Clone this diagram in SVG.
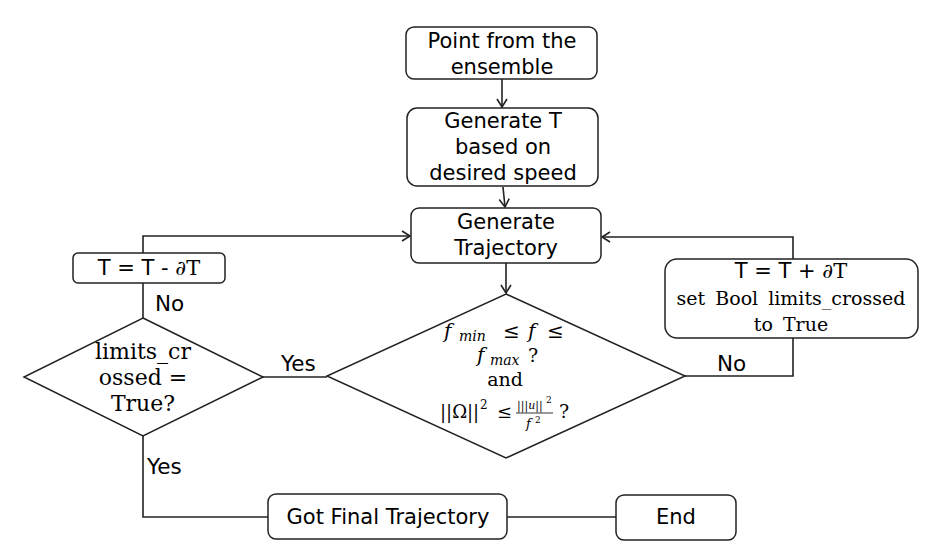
<svg xmlns="http://www.w3.org/2000/svg" width="930" height="552" viewBox="0 0 930 552">
<defs>
<marker id="arr" markerWidth="12" markerHeight="12" refX="10" refY="6" orient="auto" markerUnits="userSpaceOnUse">
<path d="M2,1 L10,6 L2,11" fill="none" stroke="#222" stroke-width="1.6"/>
</marker>
<style>
.box{fill:#fff;stroke:#222;stroke-width:1.5}
.ln{fill:none;stroke:#222;stroke-width:1.6}
.sans{font-family:"DejaVu Sans",sans-serif;font-size:21px;fill:#000;text-anchor:middle}
.serif{font-family:"DejaVu Serif",serif;font-size:19px;fill:#000;text-anchor:middle}
.big{font-size:22px}
.lbl{font-family:"DejaVu Sans",sans-serif;font-size:21.5px;fill:#000}
.m{font-family:"DejaVu Serif",serif;fill:#000}
.it{font-style:italic}
</style>
</defs>
<rect width="930" height="552" fill="#fff"/>
<g id="connectors">
<line class="ln" x1="502" y1="79" x2="502" y2="107" marker-end="url(#arr)"/>
<line class="ln" x1="503" y1="187" x2="505" y2="207" marker-end="url(#arr)"/>
<line class="ln" x1="506" y1="263" x2="506" y2="293" marker-end="url(#arr)"/>
<polyline class="ln" points="685,376 793,376 793,338"/>
<polyline class="ln" points="793,259 793,237 602,237" marker-end="url(#arr)"/>
<line class="ln" x1="327" y1="377" x2="263" y2="377"/>
<line class="ln" x1="143" y1="318" x2="143" y2="283"/>
<polyline class="ln" points="143,253 143,236 410,236" marker-end="url(#arr)"/>
<polyline class="ln" points="143,436 143,517 268,517"/>
<line class="ln" x1="507" y1="517" x2="616" y2="517"/>
<text class="lbl" x="281" y="371">Yes</text>
<text class="lbl" x="717" y="371">No</text>
<text class="lbl" x="155" y="311">No</text>
<text class="lbl" x="147" y="474">Yes</text>
</g>
<g id="n1">
<rect class="box" x="406" y="27" width="191" height="52" rx="8"/>
<text class="sans" x="502" y="48">Point from the</text>
<text class="sans" x="502" y="74">ensemble</text>
</g>
<g id="n2">
<rect class="box" x="407" y="108" width="191" height="78" rx="10"/>
<text class="sans" x="503" y="128">Generate T</text>
<text class="sans" x="503" y="154">based on</text>
<text class="sans" x="503" y="180">desired speed</text>
</g>
<g id="n3">
<rect class="box" x="411" y="208" width="190" height="55" rx="8"/>
<text class="sans" x="506" y="229">Generate</text>
<text class="sans" x="506" y="255">Trajectory</text>
</g>
<g id="n4">
<polygon class="box" points="506,294 685,376 506,458 327,376"/>
<text class="m it" x="444" y="338" style="font-size:20px">f</text>
<text class="m it" x="459" y="341" style="font-size:14px">min</text>
<text class="m" x="503" y="338" style="font-size:20px">≤</text>
<text class="m it" x="528" y="338" style="font-size:20px">f</text>
<text class="m" x="547" y="338" style="font-size:20px">≤</text>
<text class="m it" x="477" y="362" style="font-size:20px">f</text>
<text class="m it" x="490" y="365" style="font-size:14px">max</text>
<text class="m" x="528" y="362" style="font-size:19px">?</text>
<text class="m" x="505" y="386" style="font-size:19px" text-anchor="middle">and</text>
<text class="m" x="440" y="418" style="font-size:18px">||Ω||</text>
<text class="m" x="480" y="409" style="font-size:12px">2</text>
<text class="m" x="497" y="418" style="font-size:18px">≤</text>
<text class="m" x="517" y="409" style="font-size:11px">|||<tspan class="it">u</tspan>||</text>
<text class="m" x="546" y="403" style="font-size:9px">2</text>
<line x1="516" y1="413" x2="553" y2="413" stroke="#000" stroke-width="0.8"/>
<text class="m it" x="526" y="428" style="font-size:13px">f</text>
<text class="m" x="535" y="423" style="font-size:9px">2</text>
<text class="m" x="559" y="418" style="font-size:19px">?</text>
</g>
<g id="n5">
<rect class="box" x="665" y="259" width="253" height="79" rx="12"/>
<text class="sans" x="791" y="278"><tspan>T = T + </tspan><tspan font-family="DejaVu Serif, serif">∂T</tspan></text>
<text class="serif" x="791" y="305" word-spacing="4">set Bool limits_crossed</text>
<text class="serif" x="791" y="331" word-spacing="4">to True</text>
</g>
<g id="n6">
<rect class="box" x="73" y="253" width="152" height="30" rx="5"/>
<text class="sans" x="149" y="275"><tspan>T = T - </tspan><tspan font-family="DejaVu Serif, serif">∂T</tspan></text>
</g>
<g id="n7">
<polygon class="box" points="143,318 263,377 143,436 24,377"/>
<text class="serif big" x="143" y="359">limits_cr</text>
<text class="serif big" x="143" y="385">ossed =</text>
<text class="serif big" x="143" y="411">True?</text>
</g>
<g id="n8">
<rect class="box" x="268" y="494" width="239" height="45" rx="8"/>
<text class="sans" x="388" y="524">Got Final Trajectory</text>
</g>
<g id="n9">
<rect class="box" x="616" y="495" width="120" height="45" rx="8"/>
<text class="sans" x="676" y="524">End</text>
</g>
</svg>
